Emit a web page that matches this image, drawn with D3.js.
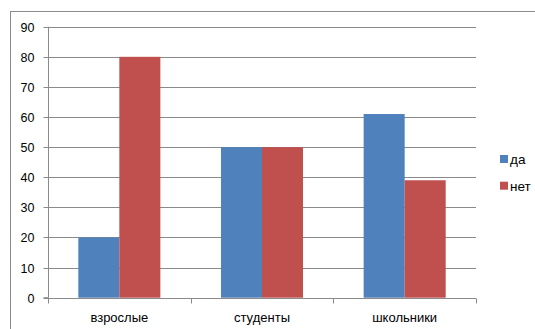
<!DOCTYPE html>
<html>
<head>
<meta charset="utf-8">
<script src="https://cdn.jsdelivr.net/npm/d3@7"></script>
<style>
  html, body { margin: 0; padding: 0; background: #fff; }
  svg { display: block; }
  text { font-family: "Liberation Sans", Arial, sans-serif; fill: #000; }
</style>
</head>
<body>
<svg id="chart" width="535" height="329"></svg>
<script>
// Survey answers by group
const categories = ["взрослые", "студенты", "школьники"];
const seriesNames = ["да", "нет"];
const yesValues = [20, 50, 61];
const noValues = [80, 50, 39];
const yTicks = [0, 10, 20, 30, 40, 50, 60, 70, 80, 90];
const colors = ["#4F81BD", "#C0504D"];

const seriesValues = [yesValues, noValues];

const svg = d3.select("#chart");
const W = 535, H = 329;
const plot = { left: 48, right: 476, top: 26.7, bottom: 297.7 };

// Outer chart frame (extends past the right and bottom edges)
svg.append("rect")
  .attr("x", 10.5).attr("y", 11.5)
  .attr("width", W + 20).attr("height", H + 20)
  .attr("fill", "none").attr("stroke", "#8c8c8c").attr("stroke-width", 1);

const x0 = d3.scaleBand()
  .domain(categories)
  .range([plot.left, plot.right])
  .paddingInner(0.425)
  .paddingOuter(0.2125);

const x1 = d3.scaleBand()
  .domain(seriesNames)
  .range([0, x0.bandwidth()]);

const y = d3.scaleLinear()
  .domain([0, 90])
  .range([plot.bottom, plot.top]);

// Horizontal gridlines
svg.append("g")
  .selectAll("line")
  .data(yTicks.filter(d => d > 0))
  .join("line")
  .attr("x1", plot.left).attr("x2", plot.right)
  .attr("y1", d => Math.round(y(d)) + 0.5)
  .attr("y2", d => Math.round(y(d)) + 0.5)
  .attr("stroke", "#8a8a8a").attr("stroke-width", 1);

// Bars
const groups = svg.append("g")
  .selectAll("g")
  .data(categories)
  .join("g")
  .attr("transform", d => `translate(${x0(d)},0)`);

groups.selectAll("rect")
  .data((c, i) => seriesNames.map((s, j) => ({ s, v: seriesValues[j][i], j })))
  .join("rect")
  .attr("x", d => x1(d.s))
  .attr("y", d => y(d.v))
  .attr("width", x1.bandwidth())
  .attr("height", d => y(0) - y(d.v))
  .attr("fill", d => colors[d.j]);

// Y axis
const yAxis = d3.axisLeft(y)
  .tickValues(yTicks)
  .tickSize(5)
  .tickPadding(9)
  .tickFormat(d3.format("d"));

const gy = svg.append("g")
  .attr("transform", `translate(${plot.left + 0.5},0)`)
  .call(yAxis);
gy.select(".domain").attr("stroke", "#8a8a8a").attr("d", `M-5,${y(0)}H0V${plot.top}`);
gy.selectAll(".tick line").attr("stroke", "#8a8a8a");
gy.selectAll(".tick text")
  .style("font-size", "12.5px")
  .attr("fill", "#000");
gy.selectAll(".tick").attr("transform", d => `translate(0,${Math.round(y(d)) + 0.5})`);

// X axis: tick marks at category boundaries
const boundaries = [plot.left, ...categories.slice(1).map(c => x0(c) - x0.step() * x0.paddingInner() / 2), plot.right];
const gx = svg.append("g").attr("transform", `translate(0,${Math.round(y(0)) + 0.5})`);
gx.append("line")
  .attr("x1", plot.left).attr("x2", plot.right)
  .attr("stroke", "#8a8a8a");
gx.selectAll(".bt")
  .data(boundaries)
  .join("line")
  .attr("class", "bt")
  .attr("x1", d => Math.round(d) + 0.5).attr("x2", d => Math.round(d) + 0.5)
  .attr("y1", 0).attr("y2", 5)
  .attr("stroke", "#8a8a8a");
gx.selectAll("text")
  .data(categories)
  .join("text")
  .attr("x", d => x0(d) + x0.bandwidth() / 2)
  .attr("y", 23)
  .attr("text-anchor", "middle")
  .style("font-size", "13px")
  .text(d => d);

// Legend
const legend = svg.append("g")
  .selectAll("g")
  .data(seriesNames)
  .join("g")
  .attr("transform", (d, i) => `translate(500,${155 + i * 26.7})`);
legend.append("rect")
  .attr("width", 8).attr("height", 8)
  .attr("fill", (d, i) => colors[i]);
legend.append("text")
  .attr("x", 10).attr("y", 8.8)
  .style("font-size", "13.5px")
  .text(d => d);
</script>
</body>
</html>
